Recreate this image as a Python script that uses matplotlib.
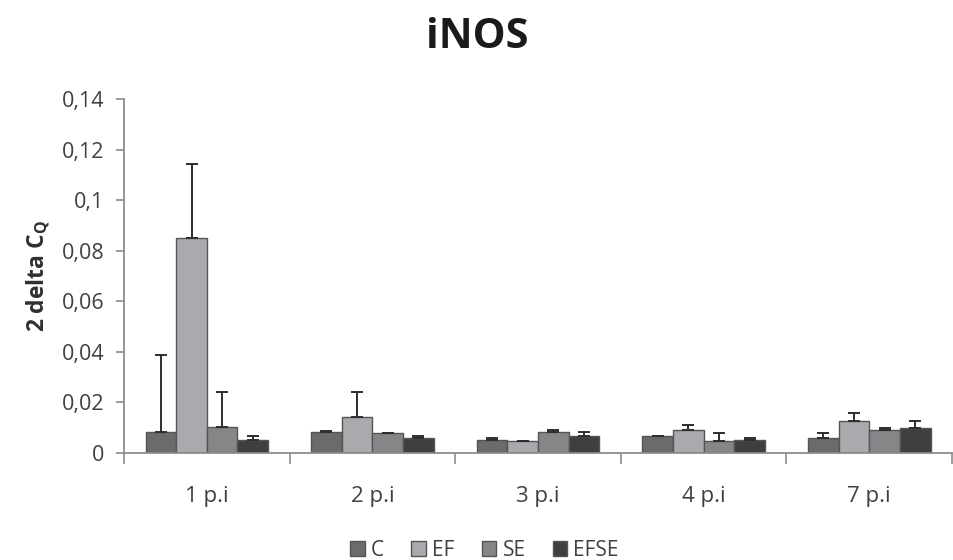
import matplotlib
matplotlib.use("Agg")
import matplotlib.pyplot as plt
import numpy as np

plt.rcParams['font.family'] = ['Open Sans', 'DejaVu Sans']

categories = ["1 p.i", "2 p.i", "3 p.i", "4 p.i", "7 p.i"]
series = ["C", "EF", "SE", "EFSE"]
values = {
    "C":    [0.0084, 0.0084, 0.0051, 0.0067, 0.0060],
    "EF":   [0.0849, 0.0143, 0.0047, 0.0093, 0.0126],
    "SE":   [0.0102, 0.0078, 0.0084, 0.0047, 0.0093],
    "EFSE": [0.0051, 0.0058, 0.0067, 0.0051, 0.0100],
}
errors = {
    "C":    [0.0303, 0.0002, 0.0007, 0.0002, 0.0018],
    "EF":   [0.0293, 0.0099, 0.0002, 0.0018, 0.0033],
    "SE":   [0.0140, 0.0002, 0.0009, 0.0031, 0.0007],
    "EFSE": [0.0016, 0.0009, 0.0017, 0.0007, 0.0026],
}
colors = {"C": "#6b6b6c", "EF": "#a9aaad", "SE": "#858688", "EFSE": "#3e3f41"}
yticks = [0, 0.02, 0.04, 0.06, 0.08, 0.1, 0.12, 0.14]
ytick_labels = ["0", "0,02", "0,04", "0,06", "0,08", "0,1", "0,12", "0,14"]

fig = plt.figure(figsize=(9.54, 5.6), dpi=100)
ax = fig.add_axes([0.13, 0.191, 0.868, 0.632])

x = np.arange(len(categories))
w = 0.185
for i, s in enumerate(series):
    pos = x + (i - 1.5) * w
    ax.bar(pos, values[s], width=w, color=colors[s], edgecolor="#555557",
           linewidth=1.0, label=s, zorder=2)
    ax.errorbar(pos, values[s], yerr=[np.zeros(len(categories)), errors[s]],
                fmt="none", ecolor="#2e2e2e", elinewidth=1.4, capsize=4.3,
                capthick=1.4, zorder=3)

ax.set_xlim(-0.5, len(categories) - 0.5)
ax.set_ylim(0, 0.14)
ax.set_yticks(yticks)
ax.set_yticklabels(ytick_labels, fontsize=15.5, color="#404040")
ax.set_xticks(x)
ax.set_xticklabels(categories, fontsize=16, color="#404040")
ax.tick_params(axis="x", length=0, pad=24)
ax.set_xticks(np.arange(-0.5, len(categories) + 0.5, 1), minor=True)
ax.tick_params(axis="x", which="minor", length=8, width=1.2, color="#8c8c8c", direction="out")
ax.tick_params(axis="y", length=6, width=1.2, color="#8c8c8c", direction="out", pad=8)

for sp in ["top", "right"]:
    ax.spines[sp].set_visible(False)
for sp in ["left", "bottom"]:
    ax.spines[sp].set_color("#8c8c8c")
    ax.spines[sp].set_linewidth(1.3)

ax.set_ylabel("2 delta C$_\\mathregular{Q}$", fontsize=16.5, fontweight="bold", color="#303030", labelpad=6)
fig.suptitle("iNOS", fontsize=30, fontweight="bold", color="#1a1a1a", x=0.5, y=0.97)

leg = fig.legend(loc="lower center", bbox_to_anchor=(0.508, -0.035), ncol=4, frameon=False,
                 fontsize=15, handlelength=0.7, handleheight=0.7, handletextpad=0.3,
                 columnspacing=1.3)
for t in leg.get_texts():
    t.set_color("#404040")

fig.savefig("out.png", dpi=100)
